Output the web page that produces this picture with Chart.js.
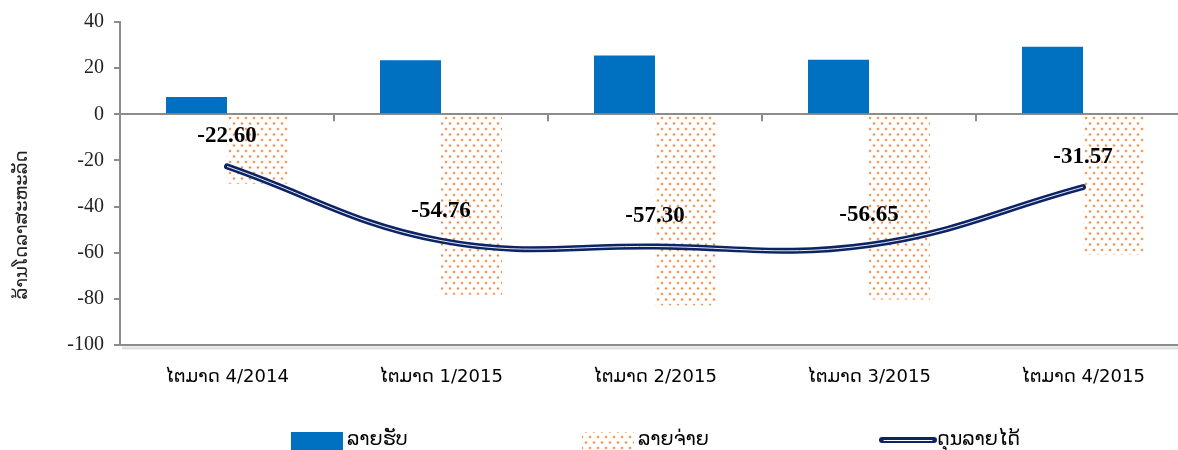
<!DOCTYPE html>
<html>
<head>
<meta charset="utf-8">
<script src="https://cdn.jsdelivr.net/npm/chart.js@4.4.1/dist/chart.umd.min.js"></script>
<style>
    html, body { margin: 0; padding: 0; background: #fff; overflow: hidden; }
    #wrap { width: 1200px; height: 450px; }
</style>
</head>
<body>
<div id="wrap"><canvas id="balanceChart" width="1200" height="450"></canvas></div>
<script>
const quarters = ['ໄຕມາດ 4/2014', 'ໄຕມາດ 1/2015', 'ໄຕມາດ 2/2015', 'ໄຕມາດ 3/2015', 'ໄຕມາດ 4/2015'];
const receipts = [7.5, 23.4, 25.5, 23.6, 29.3];
const payments = [-30.1, -78.2, -82.8, -80.3, -60.9];
const balance = [-22.60, -54.76, -57.30, -56.65, -31.57];
const yTicks = [40, 20, 0, -20, -40, -60, -80, -100];

const legendNames = ['ລາຍຮັບ', 'ລາຍຈ່າຍ', 'ດຸນລາຍໄດ້'];
const axisTitle = 'ລ້ານໂດລາສະຫະລັດ';

const BLUE = '#0070c0';
const NAVY = '#0c2466';
const AXIS = '#8c8c8c';
const LAO_FONT = '"DejaVu Sans", "Noto Sans", sans-serif';
const NUM_FONT = '"Liberation Serif", "Times New Roman", serif';


function makeDots() {
    const tile = document.createElement('canvas');
    tile.width = 8;
    tile.height = 11;
    const c = tile.getContext('2d');
    [[2, 2.5], [6, 8]].forEach(([x, y]) => {
        c.fillStyle = 'rgba(245,170,120,0.35)';
        c.beginPath(); c.arc(x, y, 1.8, 0, Math.PI * 2); c.fill();
        c.fillStyle = 'rgba(236,122,42,0.9)';
        c.beginPath(); c.arc(x, y, 1.0, 0, Math.PI * 2); c.fill();
    });
    return c.createPattern(tile, 'repeat');
}

const dots = makeDots();


// zero line tick marks, axis shadow, value labels, title and legend
const decorPlugin = {
    id: 'decor',
    beforeDatasetsDraw(chart) {
        const { ctx, chartArea, scales } = chart;
        const zeroY = scales.y.getPixelForValue(0);
        ctx.save();
        ctx.strokeStyle = 'rgba(0,0,0,0.12)';
        ctx.lineWidth = 3;
        ctx.beginPath();
        ctx.moveTo(chartArea.left + 2, chartArea.bottom + 3);
        ctx.lineTo(chartArea.right, chartArea.bottom + 3);
        ctx.stroke();

        ctx.strokeStyle = AXIS;
        ctx.lineWidth = 2;
        const step = scales.x.getPixelForValue(1) - scales.x.getPixelForValue(0);
        for (let i = 0; i <= quarters.length; i++) {
            const x = Math.round(scales.x.getPixelForValue(i) - step / 2);
            ctx.beginPath();
            ctx.moveTo(x, zeroY);
            ctx.lineTo(x, zeroY + 7);
            ctx.stroke();
        }
        ctx.restore();
    },
    afterDraw(chart) {
        const { ctx } = chart;
        ctx.save();

        const meta = chart.getDatasetMeta(1);
        ctx.font = 'bold 23px ' + NUM_FONT;
        ctx.fillStyle = '#000';
        ctx.textAlign = 'center';
        ctx.textBaseline = 'middle';
        meta.data.forEach((pt, i) => {
            ctx.fillText(balance[i].toFixed(2), pt.x, pt.y - 30);
        });

        ctx.translate(22, 225);
        ctx.rotate(-Math.PI / 2);
        ctx.font = '18px ' + LAO_FONT;
        ctx.fillStyle = '#222';
        ctx.fillText(axisTitle, 0, 0);
        ctx.setTransform(1, 0, 0, 1, 0, 0);

        // legend
        const ly = 440;
        ctx.font = '19px ' + LAO_FONT;
        ctx.textAlign = 'left';
        ctx.fillStyle = BLUE;
        ctx.fillRect(291, 432, 52, 18);
        ctx.fillStyle = dots;
        ctx.fillRect(582, 432, 52, 18);

        ctx.lineCap = 'round';
        ctx.strokeStyle = NAVY;
        ctx.lineWidth = 6;
        ctx.beginPath(); ctx.moveTo(882, ly); ctx.lineTo(934, ly); ctx.stroke();
        ctx.strokeStyle = '#fff';
        ctx.lineWidth = 1;
        ctx.beginPath(); ctx.moveTo(884, ly + 0.5); ctx.lineTo(932, ly + 0.5); ctx.stroke();

        ctx.fillStyle = '#000';
        ctx.fillText(legendNames[0], 347, ly);
        ctx.fillText(legendNames[1], 638, ly);
        ctx.fillText(legendNames[2], 937, ly);
        ctx.restore();
    }
};


new Chart(document.getElementById('balanceChart'), {
    type: 'bar',
    data: {
        labels: quarters,
        datasets: [
            {
                type: 'line',
                label: legendNames[2] + ' stripe',
                data: balance,
                borderColor: 'rgba(255,255,255,0.9)',
                borderWidth: 1,
                pointRadius: 0,
                tension: 0.4,
                order: 0
            },
            {
                type: 'line',
                label: legendNames[2],
                data: balance,
                borderColor: NAVY,
                borderWidth: 6,
                borderCapStyle: 'round',
                pointRadius: 0,
                tension: 0.4,
                order: 1
            },
            {
                label: legendNames[0],
                data: receipts,
                backgroundColor: BLUE,
                categoryPercentage: 0.57,
                barPercentage: 1.0,
                order: 2
            },
            {
                label: legendNames[1],
                data: payments,
                backgroundColor: dots,
                categoryPercentage: 0.57,
                barPercentage: 1.0,
                order: 3
            }
        ]
    },
    options: {
        responsive: false,
        animation: false,
        layout: {
            padding: { top: 19, left: 0, right: 10, bottom: 0 }
        },
        plugins: {
            legend: { display: false },
            tooltip: { enabled: false }
        },
        scales: {
            x: {
                grid: { display: false, drawTicks: false },
                border: { display: true, color: AXIS, width: 2 },
                ticks: {
                    color: '#000',
                    font: { family: LAO_FONT, size: 18 },
                    padding: 22,
                    maxRotation: 0
                },
                afterFit: scale => { scale.height = 105; }
            },
            y: {
                min: -100,
                max: 40,
                afterBuildTicks: scale => {
                    scale.ticks = yTicks.map(v => ({ value: v }));
                },
                grid: {
                    color: ctx => ctx.tick && ctx.tick.value === 0 ? AXIS : 'rgba(0,0,0,0)',
                    lineWidth: 2,
                    drawTicks: true,
                    tickLength: 6,
                    tickColor: AXIS
                },
                border: { display: true, color: AXIS, width: 2 },
                ticks: {
                    color: '#222',
                    font: { family: NUM_FONT, size: 20 },
                    padding: 10
                },
                afterFit: scale => { scale.width = 120; }
            }
        }
    },
    plugins: [decorPlugin]
});
</script>
</body>
</html>
